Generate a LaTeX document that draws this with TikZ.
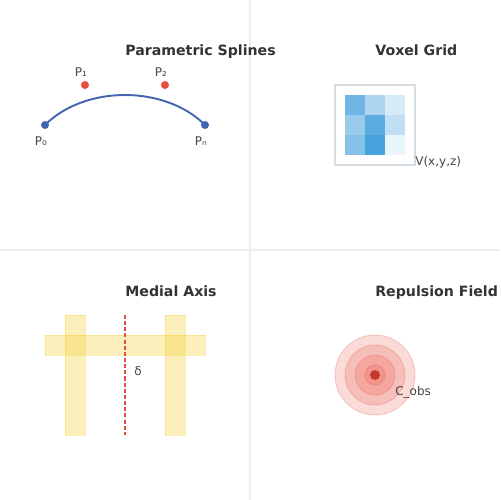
\documentclass[tikz,border=0pt]{standalone}
\usepackage{fontspec}
\setmainfont{DejaVu Sans}
\definecolor{ttl}{HTML}{333333}
\definecolor{lbl}{HTML}{444444}
\definecolor{sep}{HTML}{EEEEEE}
\definecolor{cblue}{HTML}{4466B0}
\definecolor{cred}{HTML}{E74C3C}
\definecolor{dred}{HTML}{C0392B}
\definecolor{vox}{HTML}{3498DB}
\definecolor{yel}{HTML}{F4D03F}
\definecolor{vbox}{HTML}{D5DDE3}
\begin{document}
\begin{tikzpicture}[x=0.02cm,y=-0.02cm,
  title/.style={anchor=base west,inner sep=0,text=ttl,font=\fontsize{8.05pt}{9pt}\selectfont\bfseries},
  lab/.style={inner sep=0,text=lbl,font=\fontsize{6.83pt}{8pt}\selectfont},
  bdot/.style={circle,fill=cblue,inner sep=0,minimum size=0.16cm},
  rdot/.style={circle,fill=cred,inner sep=0,minimum size=0.16cm},
  voxel/.style={fill=vox,fill opacity=#1,draw=none},
  bar/.style={fill=yel,fill opacity=0.35,draw=yel,draw opacity=0.4,line width=0.5pt},
  ring/.style={circle,fill=cred,fill opacity=#1,draw=cred,draw opacity=0.25,line width=0.5pt,inner sep=0}]
\useasboundingbox (0,0) rectangle (500,500);
% separators
\draw[sep,line width=0.8pt] (250,0) -- (250,500);
\draw[sep,line width=0.8pt] (0,250) -- (500,250);
% titles
\node[title] (t1) at (125,56) {Parametric Splines};
\node[title] (t2) at (375,56) {Voxel Grid};
\node[title] (t3) at (125,296) {Medial Axis};
\node[title] (t4) at (375,296) {Repulsion Field};
% splines
\coordinate (c0) at (45,125);
\coordinate (c1) at (85,85);
\coordinate (c2) at (165,85);
\coordinate (cn) at (205,125);
\draw[cblue,line width=1.1pt] (c0) .. controls (c1) and (c2) .. (cn);
\node[bdot] (p0) at (c0) {};
\node[bdot] (pn) at (cn) {};
\node[rdot] (p1) at (c1) {};
\node[rdot] (p2) at (c2) {};
\node[lab,anchor=base] (l1) at (81,77) {P₁};
\node[lab,anchor=base] (l2) at (161,77) {P₂};
\node[lab,anchor=base] (l0) at (41,145) {P₀};
\node[lab,anchor=base] (ln) at (201,145) {Pₙ};
% voxel grid
\draw[fill=white,draw=vbox,line width=0.8pt] (335,85) rectangle (415,165);
\fill[voxel=0.7] (345,95) rectangle (365,115);
\fill[voxel=0.4] (365,95) rectangle (385,115);
\fill[voxel=0.2] (385,95) rectangle (405,115);
\fill[voxel=0.5] (345,115) rectangle (365,135);
\fill[voxel=0.8] (365,115) rectangle (385,135);
\fill[voxel=0.3] (385,115) rectangle (405,135);
\fill[voxel=0.6] (345,135) rectangle (365,155);
\fill[voxel=0.9] (365,135) rectangle (385,155);
\fill[voxel=0.1] (385,135) rectangle (405,155);
\node[lab,anchor=base west] (vl) at (415,165) {V(x,y,z)};
% medial axis
\draw[bar] (45,335) rectangle (205,355);
\draw[bar] (65,315) rectangle (85,435);
\draw[bar] (165,315) rectangle (185,435);
\coordinate (m1) at (125,315);
\coordinate (m2) at (125,435);
\draw[cred,line width=1pt,dash pattern=on 2.3pt off 1.2pt] (m1) -- (m2);
\node[lab,anchor=base] (dl) at (138,375) {δ};
% repulsion field
\coordinate (rc) at (375,375);
\node[ring=0.2,minimum size=1.6cm] (r1) at (rc) {};
\node[ring=0.2,minimum size=1.2cm] (r2) at (rc) {};
\node[ring=0.2,minimum size=0.8cm] (r3) at (rc) {};
\node[ring=0.2,minimum size=0.4cm] (r4) at (rc) {};
\node[circle,fill=dred,inner sep=0,minimum size=0.2cm] (r5) at (rc) {};
\node[lab,anchor=base west] (cl) at (395,395) {C\_obs};
\end{tikzpicture}
\end{document}
